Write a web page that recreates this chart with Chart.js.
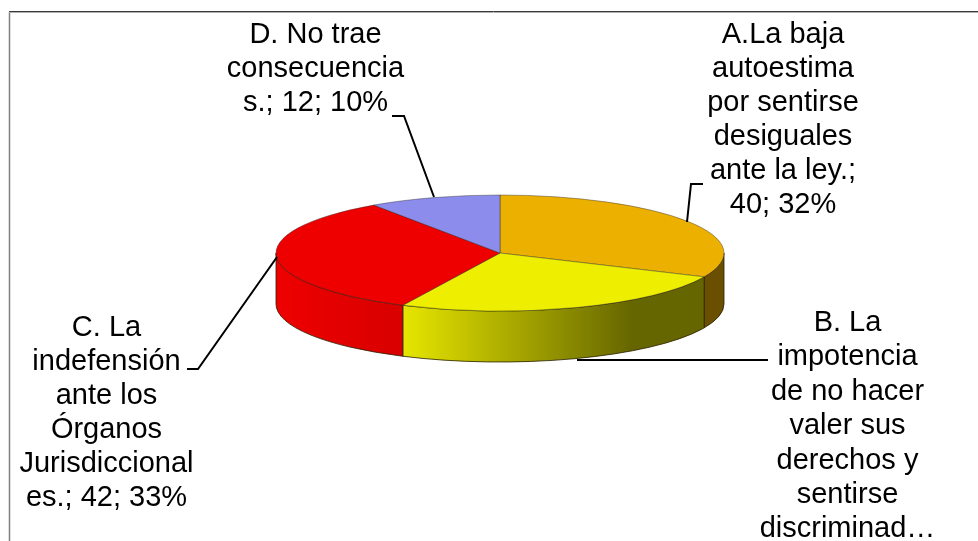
<!DOCTYPE html>
<html><head><meta charset="utf-8">
<style>html,body{margin:0;padding:0;background:#fff}canvas{display:block}</style>
<script src="https://cdn.jsdelivr.net/npm/chart.js@4"></script></head>
<body><div style="width:978px;height:541px"><canvas id="c" width="978" height="541"></canvas></div>
<script>
const categories = ["A.La baja autoestima por sentirse desiguales ante la ley.", "B. La impotencia de no hacer valer sus derechos y sentirse discriminados.", "C. La indefensión ante los Órganos Jurisdiccionales.", "D. No trae consecuencias."];
const values = [40, 32, 42, 12];
const topColors = ["#ecb000", "#eeee00", "#ee0000", "#8c8ced"];
const labelA = ["A.La baja", "autoestima", "por sentirse", "desiguales", "ante la ley.;", "40; 32%"];
const labelB = ["B. La", "impotencia", "de no hacer", "valer sus", "derechos y", "sentirse", "discriminad…"];
const labelC = ["C. La", "indefensión", "ante los", "Órganos", "Jurisdiccional", "es.; 42; 33%"];
const labelD = ["D. No trae", "consecuencia", "s.; 12; 10%"];

const CX = 500, CY = 253, RX = 224, RY = 58, DEPTH = 51;
const FONT = '29px "Liberation Sans"';
const textBlocks = [
  {lines: labelA, x: 783, y: 43, lh: 34},
  {lines: labelB, x: 847.5, y: 331, lh: 34.4},
  {lines: labelC, x: 106.5, y: 336, lh: 34},
  {lines: labelD, x: 315.5, y: 43, lh: 34},
];
const leaders = [
  [[703, 184], [691, 184], [687, 222]],
  [[768, 360], [577, 360]],
  [[187, 369], [198, 369], [277, 257]],
  [[392, 116], [404, 116], [434, 197]],
];

function ex(a){ return CX + RX * Math.cos(a); }

const wallStops = {
  0: [[0, "#6a4f00"], [1, "#6a4f00"]],
  1: [[0, "#e6e600"], [0.76, "#666600"], [1, "#666600"]],
  2: [[0, "#ee0000"], [1, "#d80000"]],
};

const pie3d = {
  id: "pie3d",
  beforeDatasetsDraw(chart) {
    const ctx = chart.ctx;
    const arcs = chart.getDatasetMeta(0).data;
    ctx.save();
    arcs.forEach((arc, i) => {
      if (arc.startAngle >= Math.PI || !wallStops[i]) return;
      const s = Math.max(arc.startAngle, 0);
      const e = Math.min(arc.endAngle, Math.PI);
      if (e <= s) return;
      const x0 = Math.min(ex(s), ex(e)), x1 = Math.max(ex(s), ex(e));
      const g = ctx.createLinearGradient(x0, 0, x1, 0);
      wallStops[i].forEach(st => g.addColorStop(st[0], st[1]));
      ctx.beginPath();
      ctx.ellipse(CX, CY, RX, RY, 0, s, e, false);
      ctx.ellipse(CX, CY + DEPTH, RX, RY, 0, e, s, true);
      ctx.closePath();
      ctx.fillStyle = g;
      ctx.fill();
      ctx.strokeStyle = "rgba(40,30,0,0.8)";
      ctx.lineWidth = 1;
      ctx.stroke();
    });
    ctx.restore();
    const r = arcs[0].outerRadius, ay = arcs[0].y, ax = arcs[0].x;
    ctx.save();
    ctx.translate(CX, CY);
    ctx.scale(RX / r, RY / r);
    ctx.translate(-ax, -ay);
  },
  afterDatasetsDraw(chart) {
    const ctx = chart.ctx;
    ctx.restore();
    ctx.save();
    ctx.strokeStyle = "#000";
    ctx.lineWidth = 2;
    leaders.forEach(pts => {
      ctx.beginPath();
      pts.forEach((p, i) => i ? ctx.lineTo(p[0], p[1]) : ctx.moveTo(p[0], p[1]));
      ctx.stroke();
    });
    ctx.fillStyle = "#000";
    ctx.font = FONT;
    ctx.textAlign = "center";
    ctx.textBaseline = "alphabetic";
    textBlocks.forEach(b => b.lines.forEach((t, i) => ctx.fillText(t, b.x, b.y + i * b.lh)));
    ctx.lineWidth = 1.5;
    ctx.strokeStyle = "#808080";
    ctx.beginPath();
    ctx.moveTo(9.5, 541); ctx.lineTo(9.5, 12);
    ctx.stroke();
    ctx.lineWidth = 1;
    ctx.strokeStyle = "#3a3a3a";
    ctx.beginPath();
    ctx.moveTo(9, 11.5); ctx.lineTo(978, 11.5);
    ctx.stroke();
    ctx.strokeStyle = "#b0b0b0";
    ctx.beginPath();
    ctx.moveTo(9, 12.5); ctx.lineTo(978, 12.5);
    ctx.stroke();
    ctx.restore();
  }
};

new Chart(document.getElementById("c"), {
  type: "pie",
  data: { labels: categories, datasets: [{ data: values, backgroundColor: topColors, borderColor: "rgba(40,40,40,0.8)", borderWidth: 1, borderAlign: "center" }] },
  options: {
    responsive: false, animation: false, events: [],
    layout: { padding: 0 },
    plugins: { legend: { display: false }, tooltip: { enabled: false }, title: { display: false } }
  },
  plugins: [pie3d]
});
</script></body></html>
